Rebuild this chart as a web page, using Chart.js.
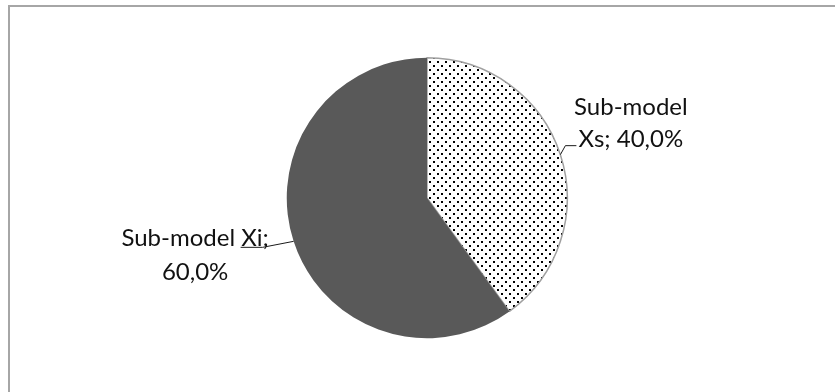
<!DOCTYPE html>
<html>
<head>
<meta charset="utf-8">
<script src="https://cdn.jsdelivr.net/npm/chart.js@4/dist/chart.umd.min.js"></script>
<style>
  html, body { margin: 0; padding: 0; background: #fff; }
  #wrap { width: 835px; height: 392px; position: relative; }
</style>
</head>
<body>
<div id="wrap"><canvas id="pie"></canvas></div>
<script>
const labels = ['Sub-model Xs', 'Sub-model Xi'];
const shares = [40.0, 60.0];
// how each label is broken over two lines
const labelLines = [
  ['Sub-model', 'Xs; 40,0%'],
  ['Sub-model Xi;', '60,0%'],
];

// dotted fill for the smaller slice
const dots = (() => {
  const c = document.createElement('canvas');
  c.width = 8;
  c.height = 8;
  const g = c.getContext('2d');
  g.fillStyle = '#fff';
  g.fillRect(0, 0, 8, 8);
  g.fillStyle = '#000';
  g.fillRect(1, 1, 2, 2);
  g.fillRect(5, 5, 2, 2);
  return g.createPattern(c, 'repeat');
})();

// leader + text placement, relative to the point on the rim at each slice's mid angle
const callouts = [
  { leader: [[5, -9], [16, -9]], dx: 70.5, lineDy: [-39.7, -7.7] },
  { leader: [[-31, 6], [-53, 6]], dx: -98.5, lineDy: [5, 39] },
];

const frame = {
  id: 'frame',
  beforeDraw(chart) {
    const ctx = chart.ctx;
    ctx.save();
    ctx.fillStyle = '#a6a6a6';
    ctx.fillRect(8, 5, chart.width - 8, 2);
    ctx.fillRect(8, 5, 2, chart.height - 5);
    ctx.restore();
  },
};

const callout = {
  id: 'callout',
  afterDatasetsDraw(chart) {
    const ctx = chart.ctx;
    const meta = chart.getDatasetMeta(0);
    ctx.save();
    meta.data.forEach((arc, i) => {
      const p = arc.getProps(['x', 'y', 'startAngle', 'endAngle', 'outerRadius'], true);
      const mid = (p.startAngle + p.endAngle) / 2;
      const ex = p.x + Math.cos(mid) * p.outerRadius;
      const ey = p.y + Math.sin(mid) * p.outerRadius;
      const c = callouts[i];

      ctx.strokeStyle = '#1a1a1a';
      ctx.lineWidth = 1;
      ctx.beginPath();
      ctx.moveTo(ex, ey);
      c.leader.forEach(([dx, dy]) => ctx.lineTo(ex + dx, ey + dy));
      ctx.stroke();

      ctx.fillStyle = '#111';
      ctx.font = '24px Lato';
      ctx.textAlign = 'center';
      ctx.textBaseline = 'alphabetic';
      labelLines[i].forEach((t, k) => {
        ctx.fillText(t, ex + c.dx, ey + c.lineDy[k]);
      });
    });
    ctx.restore();
  },
};

new Chart(document.getElementById('pie'), {
  type: 'pie',
  data: {
    labels: labels,
    datasets: [
      {
        data: shares,
        backgroundColor: [dots, '#595959'],
        borderColor: ['#a0a0a0', '#595959'],
        borderWidth: [1.5, 0],
      },
    ],
  },
  options: {
    responsive: true,
    maintainAspectRatio: false,
    animation: false,
    layout: { padding: { top: 57, bottom: 53, left: 19, right: 0 } },
    plugins: {
      legend: { display: false },
      tooltip: { enabled: false },
    },
  },
  plugins: [frame, callout],
});
</script>
</body>
</html>
